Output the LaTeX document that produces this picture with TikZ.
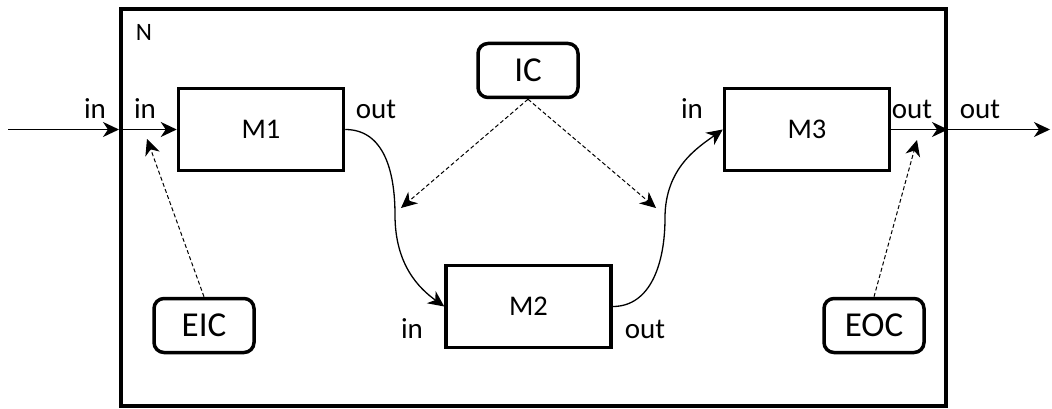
\documentclass[tikz,border=0pt]{standalone}
\usepackage{fontspec}
\setmainfont{Carlito}
\usetikzlibrary{arrows.meta}
\begin{document}
\begin{tikzpicture}[x=1pt,y=-1pt,
  every node/.style={inner sep=0pt},
  mbox/.style={draw,line width=3.5pt,minimum width=165pt,minimum height=82pt,font=\fontsize{28.5}{30}\selectfont},
  cbox/.style={draw,line width=3.5pt,rounded corners=10pt,minimum width=100pt,minimum height=54pt,font=\fontsize{35}{38}\selectfont},
  lbl/.style={anchor=base,font=\fontsize{29}{32}\selectfont},
  tipa/.style={-{Stealth[length=16pt,width=15pt,inset=5pt]}},
  conn/.style={tipa,line width=1.3pt},
  dconn/.style={tipa,line width=1pt,dash pattern=on 4pt off 2.5pt},
]
\useasboundingbox (0,0) rectangle (1052,409);
\node[draw,line width=4pt,minimum width=825pt,minimum height=397pt] (N) at (533.5,207.5) {};
\node[lbl,font=\fontsize{25}{27}\selectfont] (nl) at (144,41) {N};
\node[mbox] (M1) at (261,129.5) {M1};
\node[mbox] (M2) at (528.5,306.5) {M2};
\node[mbox] (M3) at (807,129.5) {M3};
\node[cbox] (IC) at (528,70.5) {IC};
\node[cbox] (EIC) at (204,325.5) {EIC};
\node[cbox] (EOC) at (874,325.5) {EOC};
% labels
\node[lbl] (l1) at (95,119) {in};
\node[lbl] (l2) at (145,119) {in};
\node[lbl] (l3) at (376,119) {out};
\node[lbl] (l4) at (692,119) {in};
\node[lbl] (l5) at (912,119) {out};
\node[lbl] (l6) at (980,119) {out};
\node[lbl] (l7) at (412,338) {in};
\node[lbl] (l8) at (645,338) {out};
% coordinates
\coordinate (src) at (8,129.5);
\coordinate (dst) at (1050,129.5);
\coordinate (c1) at (395,215);
\coordinate (c2) at (665,218);
\coordinate (eicT) at (147,139);
\coordinate (eocT) at (917,140);
\coordinate (icL) at (401,208);
\coordinate (icR) at (656,208);
% connectors
\draw[conn] (src) -- (N.west |- M1.west);
\draw[conn] (N.west |- M1.west) -- (M1.west);
\draw[conn] (M3.east) -- (N.east |- M3.east);
\draw[conn] (N.east |- M3.east) -- (dst);
\draw[conn] (M1.east) .. controls +(38,0) and +(0,-45) .. (c1)
  .. controls +(0,50) and +(-25,-18) .. (M2.west);
\draw[conn] (M2.east) .. controls +(38,0) and +(0,45) .. (c2)
  .. controls +(0,-50) and +(-25,18) .. (M3.west);
\draw[dconn] (EIC.north) -- (eicT);
\draw[dconn] (EOC.north) -- (eocT);
\draw[dconn] (IC.south) -- (icL);
\draw[dconn] (IC.south) -- (icR);
\end{tikzpicture}
\end{document}
